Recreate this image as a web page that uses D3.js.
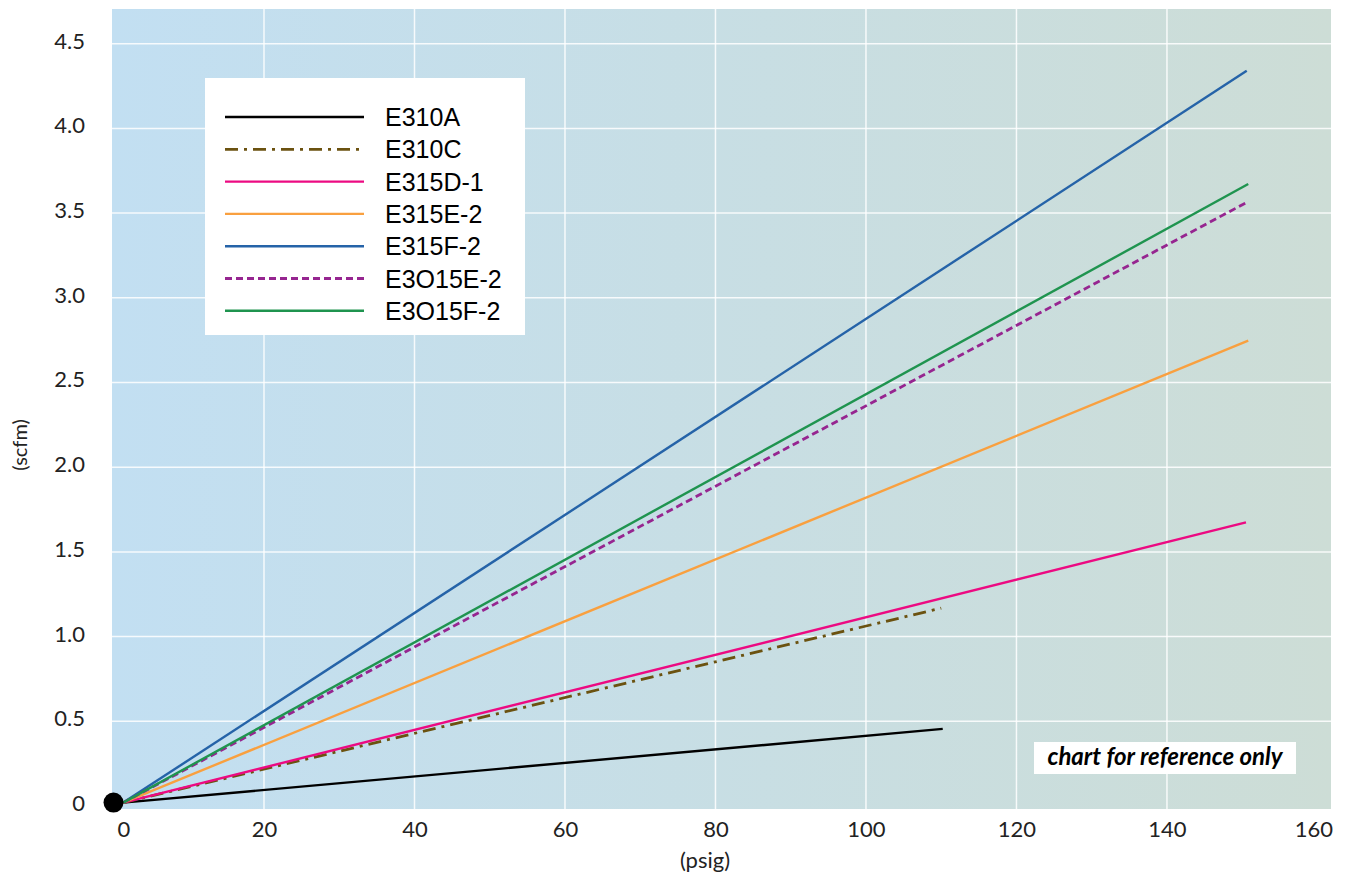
<!DOCTYPE html>
<html>
<head>
<meta charset="utf-8">
<script src="https://cdn.jsdelivr.net/npm/d3@7"></script>
<style>
  body { margin: 0; background: #fff; }
  .tick text { font-family: Lato, "Open Sans", sans-serif; fill: #222; }
</style>
</head>
<body>
<div id="chart"></div>
<script>
// series: [psig, scfm] start/end points
var seriesNames = ['E310A', 'E310C', 'E315D-1', 'E315E-2', 'E315F-2', 'E3O15E-2', 'E3O15F-2'];
var seriesColors = ['#000000', '#6b5210', '#ec0a82', '#f9a03f', '#2563a8', '#962590', '#1f944f'];
var seriesDash = [null, '13,6,3,6', null, null, null, '7,4', null];
var E310A = [[1.3, 0.02], [110.2, 0.455]];
var E310C = [[1.3, 0.02], [110.0, 1.168]];
var E315D1 = [[1.3, 0.02], [150.5, 1.674]];
var E315E2 = [[1.3, 0.02], [150.8, 2.747]];
var E315F2 = [[1.3, 0.02], [150.6, 4.34]];
var E3O15E2 = [[1.3, 0.02], [150.5, 3.561]];
var E3O15F2 = [[1.3, 0.02], [150.8, 3.672]];
var seriesData = [E310A, E310C, E315D1, E315E2, E315F2, E3O15E2, E3O15F2];

var xTicks = [0, 20, 40, 60, 80, 100, 120, 140, 160];
var yTicks = [0, 0.5, 1.0, 1.5, 2.0, 2.5, 3.0, 3.5, 4.0, 4.5];

var width = 1346;
var height = 875;
var plotL = 112, plotR = 1331, plotT = 9, plotB = 809;

var x = d3.scaleLinear().domain([-0.2, 161.8]).range([plotL, plotR]);
var y = d3.scaleLinear().domain([-0.0177, 4.705]).range([plotB, plotT]);

var svg = d3.select('#chart')
  .append('svg')
  .attr('width', width)
  .attr('height', height);

var grad = svg.append('defs').append('linearGradient')
  .attr('id', 'bg')
  .attr('x1', '0%').attr('x2', '100%').attr('y1', '0%').attr('y2', '0%');
grad.append('stop').attr('offset', '0%').attr('stop-color', '#c2dff2');
grad.append('stop').attr('offset', '100%').attr('stop-color', '#cdddd6');

svg.append('rect')
  .attr('x', plotL).attr('y', plotT)
  .attr('width', plotR - plotL).attr('height', plotB - plotT)
  .attr('fill', 'url(#bg)');

// grid
svg.append('g').selectAll('line')
  .data(xTicks.filter(function(d) { return d > 0 && d < 160; }))
  .enter().append('line')
  .attr('x1', function(d) { return x(d); }).attr('x2', function(d) { return x(d); })
  .attr('y1', plotT).attr('y2', plotB)
  .attr('stroke', '#ffffff').attr('stroke-opacity', 0.85).attr('stroke-width', 1.5);

svg.append('g').selectAll('line')
  .data(yTicks.filter(function(d) { return d > 0; }))
  .enter().append('line')
  .attr('x1', plotL).attr('x2', plotR)
  .attr('y1', function(d) { return y(d); }).attr('y2', function(d) { return y(d); })
  .attr('stroke', '#ffffff').attr('stroke-opacity', 0.85).attr('stroke-width', 1.5);

// axes
var yAxis = svg.append('g')
  .attr('transform', 'translate(' + (plotL - 27) + ',0)')
  .call(d3.axisLeft(y).tickValues(yTicks).tickSize(0)
    .tickFormat(function(d) { return d === 0 ? '0' : d3.format('.1f')(d); }));
yAxis.select('.domain').remove();
yAxis.selectAll('text').attr('font-size', 22).attr('x', 0).attr('dy', '0.2em');

var xAxis = svg.append('g')
  .attr('transform', 'translate(0,' + (plotB + 9) + ')')
  .call(d3.axisBottom(x).tickValues(xTicks).tickSize(0));
xAxis.select('.domain').remove();
xAxis.selectAll('text').attr('font-size', 22)
  .attr('dx', function(d) { return d === 0 ? 10 : (d === 160 ? -4 : 0); });

svg.append('text')
  .attr('x', 705).attr('y', 868)
  .attr('text-anchor', 'middle')
  .attr('font-family', 'Lato, sans-serif').attr('font-size', 22).attr('fill', '#222')
  .text('(psig)');

svg.append('text')
  .attr('transform', 'translate(27,445) rotate(-90)')
  .attr('text-anchor', 'middle')
  .attr('font-family', 'Lato, sans-serif').attr('font-size', 20).attr('fill', '#222')
  .text('(scfm)');

// lines
var line = d3.line()
  .x(function(d) { return x(d[0]); })
  .y(function(d) { return y(d[1]); });

svg.append('g').selectAll('path')
  .data(seriesData)
  .enter().append('path')
  .attr('d', line)
  .attr('fill', 'none')
  .attr('stroke', function(d, i) { return seriesColors[i]; })
  .attr('stroke-width', function(d, i) { return seriesDash[i] ? 2.8 : 2.4; })
  .attr('stroke-dasharray', function(d, i) { return seriesDash[i]; });

// origin dot
svg.append('circle')
  .attr('cx', x(0)).attr('cy', y(0.02))
  .attr('r', 10).attr('fill', '#000');

// legend
var legend = svg.append('g');
legend.append('rect')
  .attr('x', 205).attr('y', 78).attr('width', 320).attr('height', 257)
  .attr('fill', '#ffffff');

var rows = legend.selectAll('g.row')
  .data(seriesNames)
  .enter().append('g')
  .attr('class', 'row')
  .attr('transform', function(d, i) { return 'translate(0,' + (117 + i * 32.3) + ')'; });

rows.append('line')
  .attr('x1', 225).attr('x2', 364)
  .attr('stroke', function(d, i) { return seriesColors[i]; })
  .attr('stroke-width', function(d, i) { return seriesDash[i] ? 2.8 : 2.4; })
  .attr('stroke-dasharray', function(d, i) { return seriesDash[i]; });

rows.append('text')
  .attr('x', 385).attr('y', 9)
  .attr('font-family', '"Liberation Sans", Arial, sans-serif')
  .attr('font-size', 25).attr('fill', '#000')
  .text(function(d) { return d; });

// note
svg.append('rect')
  .attr('x', 1034).attr('y', 742).attr('width', 262).attr('height', 32)
  .attr('fill', '#ffffff');
svg.append('text')
  .attr('x', 1165).attr('y', 765)
  .attr('text-anchor', 'middle')
  .attr('font-family', 'Lato, sans-serif').attr('font-size', 24)
  .attr('font-weight', 'bold').attr('font-style', 'italic').attr('fill', '#000')
  .text('chart for reference only');
</script>
</body>
</html>
